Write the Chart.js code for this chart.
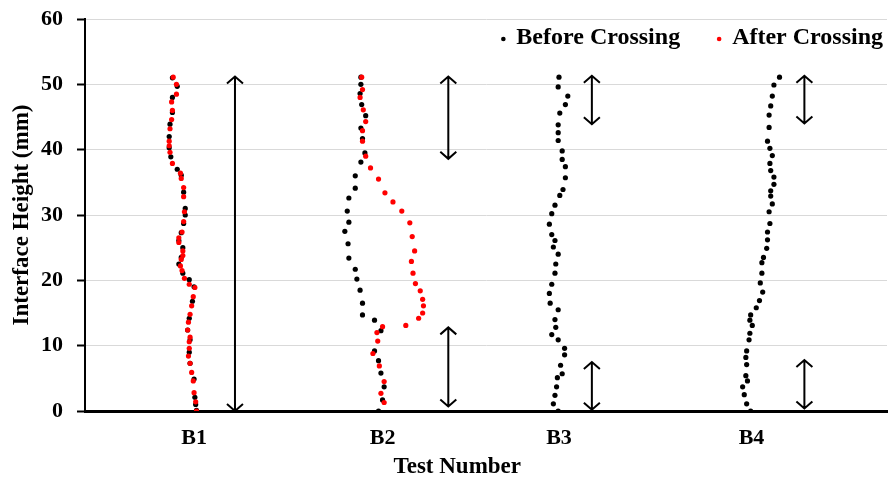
<!DOCTYPE html>
<html>
<head>
<meta charset="utf-8">
<script src="https://cdn.jsdelivr.net/npm/chart.js@4"></script>
<style>
  html, body { margin: 0; padding: 0; background: #fff; }
  #wrap { width: 891px; height: 481px; }
</style>
</head>
<body>
<div id="wrap"><canvas id="chart"></canvas></div>
<script>
// test names and where they sit on the x scale
const TESTS = ['B1', 'B2', 'B3', 'B4'];
const TEST_POS = [13.6, 37.1, 59.1, 83.1];

// interface profiles, [lateral position, height mm]
const b1Before = [[10.9,51.0],[11.5,49.7],[10.9,48.0],[10.9,45.7],[10.6,43.9],[10.5,42.0],[10.5,40.3],[10.7,38.9],[11.5,37.0],[12.0,36.1],[12.3,33.5],[12.5,31.0],[12.5,30.0],[12.3,28.7],[12.0,27.3],[11.7,26.1],[12.2,25.0],[12.0,23.5],[11.7,22.5],[12.2,21.1],[13.0,20.1],[13.6,19.0],[13.4,16.8],[13.0,14.2],[12.8,12.4],[13.1,10.9],[13.0,9.0],[13.1,7.3],[13.6,4.9],[13.7,2.1],[13.8,1.0],[13.9,0.1]];
const b1After = [[11.0,51.1],[11.4,50.0],[11.4,48.5],[10.8,47.3],[10.9,46.0],[10.8,44.6],[10.6,43.2],[10.5,41.3],[10.5,40.6],[10.6,39.6],[10.9,37.9],[11.9,36.4],[12.0,35.6],[12.3,34.2],[12.3,32.8],[12.4,30.5],[12.3,29.0],[12.1,27.4],[11.7,26.5],[11.7,25.8],[12.2,24.5],[12.2,23.8],[12.0,23.2],[11.9,22.2],[12.1,21.5],[12.4,20.3],[13.0,19.4],[13.7,18.9],[13.5,17.5],[13.3,16.1],[13.1,14.8],[12.9,13.6],[12.8,12.4],[13.1,11.3],[13.0,10.6],[13.0,9.6],[12.9,8.4],[13.1,7.3],[13.3,5.9],[13.5,4.6],[13.6,2.8],[13.8,1.4],[13.9,0.0]];
const b2Before = [[34.4,51.1],[34.4,50.0],[34.3,48.6],[34.5,46.9],[35.0,45.2],[34.4,43.3],[34.6,41.7],[34.9,39.5],[34.4,38.1],[33.7,36.0],[33.7,34.1],[32.9,32.6],[32.7,30.6],[32.9,28.9],[32.4,27.5],[32.8,25.6],[32.9,23.4],[33.7,21.7],[33.9,20.2],[34.3,18.5],[34.6,16.5],[34.6,14.7],[36.1,13.9],[36.9,12.3],[36.1,9.2],[36.6,7.7],[36.9,5.8],[37.3,3.7],[37.1,1.7],[36.6,0.0]];
const b2After = [[34.5,51.1],[34.6,49.2],[34.3,48.0],[34.7,46.1],[35.0,44.3],[34.6,42.9],[34.6,41.3],[35.0,39.0],[35.6,37.2],[36.6,35.5],[37.4,33.4],[38.4,32.0],[39.5,30.6],[40.5,28.8],[40.8,26.7],[41.1,24.5],[40.7,22.9],[40.9,21.1],[41.2,19.5],[41.8,18.4],[42.1,17.1],[42.2,16.1],[42.1,15.0],[41.6,14.2],[40.0,13.1],[37.1,12.9],[36.4,12.0],[36.5,10.7],[35.9,8.8],[36.7,6.9],[37.3,4.5],[36.9,2.7],[37.3,1.3]];
const b3Before = [[59.1,51.1],[59.0,49.6],[60.2,48.2],[59.9,46.9],[59.2,45.6],[59.0,43.8],[59.0,42.6],[59.0,41.4],[59.5,39.8],[59.5,38.5],[59.9,37.4],[59.9,35.7],[59.6,33.9],[59.2,33.0],[58.6,31.5],[58.2,30.2],[57.9,28.6],[58.2,27.0],[58.6,26.1],[58.4,25.1],[59.0,24.0],[58.7,22.5],[58.6,21.1],[58.2,19.4],[57.9,18.0],[58.0,16.5],[59.0,15.5],[58.6,14.0],[58.7,12.8],[58.2,11.7],[59.0,10.9],[59.8,9.6],[59.8,8.6],[59.3,7.0],[59.5,5.7],[58.9,5.1],[58.8,3.7],[58.6,2.4],[58.4,1.1],[59.0,0.0]];
const b4Before = [[86.6,51.1],[85.9,49.9],[85.7,48.2],[85.5,46.7],[85.3,45.3],[85.3,43.4],[85.1,41.3],[85.4,40.2],[85.7,39.1],[85.4,37.9],[85.5,36.8],[85.9,35.8],[85.9,34.7],[85.5,33.7],[85.5,32.9],[85.7,31.7],[85.3,30.5],[85.4,28.7],[85.1,27.4],[85.1,26.2],[85.0,24.9],[84.6,23.5],[84.4,22.7],[84.4,21.1],[84.2,19.6],[84.5,18.2],[84.1,16.9],[83.7,15.8],[83.0,14.7],[82.9,13.9],[83.2,13.1],[82.9,11.9],[82.8,10.9],[82.5,9.2],[82.4,8.2],[82.5,7.1],[82.4,5.4],[82.6,4.6],[82.0,3.7],[82.2,2.5],[82.5,1.1],[83.0,0.0]];

// double headed arrows: x, lower end, upper end
const ARROW_X = [18.7, 45.3, 45.3, 63.2, 63.2, 89.7, 89.7];
const ARROW_LOW = [0.0, 38.6, 0.7, 43.9, 0.2, 44.0, 0.4];
const ARROW_HIGH = [51.2, 51.2, 12.8, 51.3, 7.5, 51.3, 7.8];

const toPts = (rows) => rows.map(([x, y]) => ({x: x, y: y}));

const FAMILY = 'Liberation Serif';
const tickFont = {family: FAMILY, weight: 'bold', size: 22};
const titleFont = {family: FAMILY, weight: 'bold', size: 23};

const arrowPlugin = {
    id: 'arrows',
    afterDatasetsDraw(chart) {
        const ctx = chart.ctx;
        const xs = chart.scales.x, ys = chart.scales.y;
        ctx.save();
        ctx.strokeStyle = '#000';
        ctx.lineWidth = 2;
        ARROW_X.forEach((ax, i) => {
            const px = xs.getPixelForValue(ax);
            const top = ys.getPixelForValue(ARROW_HIGH[i]);
            const bot = ys.getPixelForValue(ARROW_LOW[i]);
            ctx.beginPath();
            ctx.moveTo(px, top);
            ctx.lineTo(px, bot);
            ctx.moveTo(px - 8, top + 7);
            ctx.lineTo(px, top);
            ctx.lineTo(px + 8, top + 7);
            ctx.moveTo(px - 8, bot - 7);
            ctx.lineTo(px, bot);
            ctx.lineTo(px + 8, bot - 7);
            ctx.stroke();
        });
        ctx.restore();
    }
};

// legend in one row inside the plot, top right
const legendPlugin = {
    id: 'insideLegend',
    afterDraw(chart) {
        const ctx = chart.ctx, area = chart.chartArea;
        ctx.save();
        ctx.font = 'bold 24px "' + FAMILY + '"';
        ctx.textBaseline = 'middle';
        const y = area.top + 19;
        let x = area.right - 4;
        chart.data.datasets.slice().reverse().forEach(ds => {
            const w = ctx.measureText(ds.label).width;
            x -= w;
            ctx.fillStyle = '#000';
            ctx.fillText(ds.label, x, y);
            ctx.fillStyle = ds.backgroundColor;
            ctx.beginPath();
            ctx.arc(x - 13, y + 1, 2.3, 0, Math.PI * 2);
            ctx.fill();
            x -= 13 + 39;
        });
        ctx.restore();
    }
};

const chart = new Chart(document.getElementById('chart'), {
    type: 'scatter',
    data: {
        datasets: [
            {
                label: 'Before Crossing',
                data: toPts([].concat(b1Before, b2Before, b3Before, b4Before)),
                backgroundColor: '#000000',
                borderColor: '#000000',
                borderWidth: 0,
                pointRadius: 2.6,
                order: 2
            },
            {
                label: 'After Crossing',
                data: toPts([].concat(b1After, b2After)),
                backgroundColor: '#ff0000',
                borderColor: '#ff0000',
                borderWidth: 0,
                pointRadius: 2.6,
                order: 1
            }
        ]
    },
    options: {
        responsive: true,
        maintainAspectRatio: false,
        animation: false,
        layout: {padding: {top: 19, right: 0, left: 0, bottom: 0}},
        plugins: {
            tooltip: {enabled: false},
            legend: {display: false}
        },
        scales: {
            x: {
                type: 'linear',
                min: 0,
                max: 100,
                afterBuildTicks: (scale) => {
                    scale.ticks = TEST_POS.map(v => ({value: v}));
                },
                afterFit: (scale) => { scale.height = 70; },
                ticks: {
                    callback: (v, i) => TESTS[i],
                    color: '#000',
                    font: tickFont,
                    padding: 14,
                    maxRotation: 0,
                    autoSkip: false
                },
                grid: {display: false, drawTicks: false},
                border: {color: '#000', width: 3},
                title: {
                    display: true,
                    // trailing spaces pull the centred title left, as in the source figure
                    text: 'Test Number' + '\u00a0'.repeat(10),
                    color: '#000',
                    font: titleFont,
                    padding: {top: 0, bottom: 0}
                }
            },
            y: {
                min: 0,
                max: 60,
                afterFit: (scale) => {
                    scale.width = 85;
                    scale.paddingTop = 0;
                },
                ticks: {stepSize: 10, color: '#000', font: tickFont, padding: 14},
                grid: {color: '#d9d9d9', lineWidth: 1, tickColor: '#000', tickLength: 8, tickWidth: 2},
                border: {color: '#000', width: 2},
                title: {
                    display: true,
                    text: 'Interface Height (mm)',
                    color: '#000',
                    font: titleFont,
                    padding: {top: 8, bottom: 0}
                }
            }
        }
    },
    plugins: [arrowPlugin, legendPlugin]
});
</script>
</body>
</html>
